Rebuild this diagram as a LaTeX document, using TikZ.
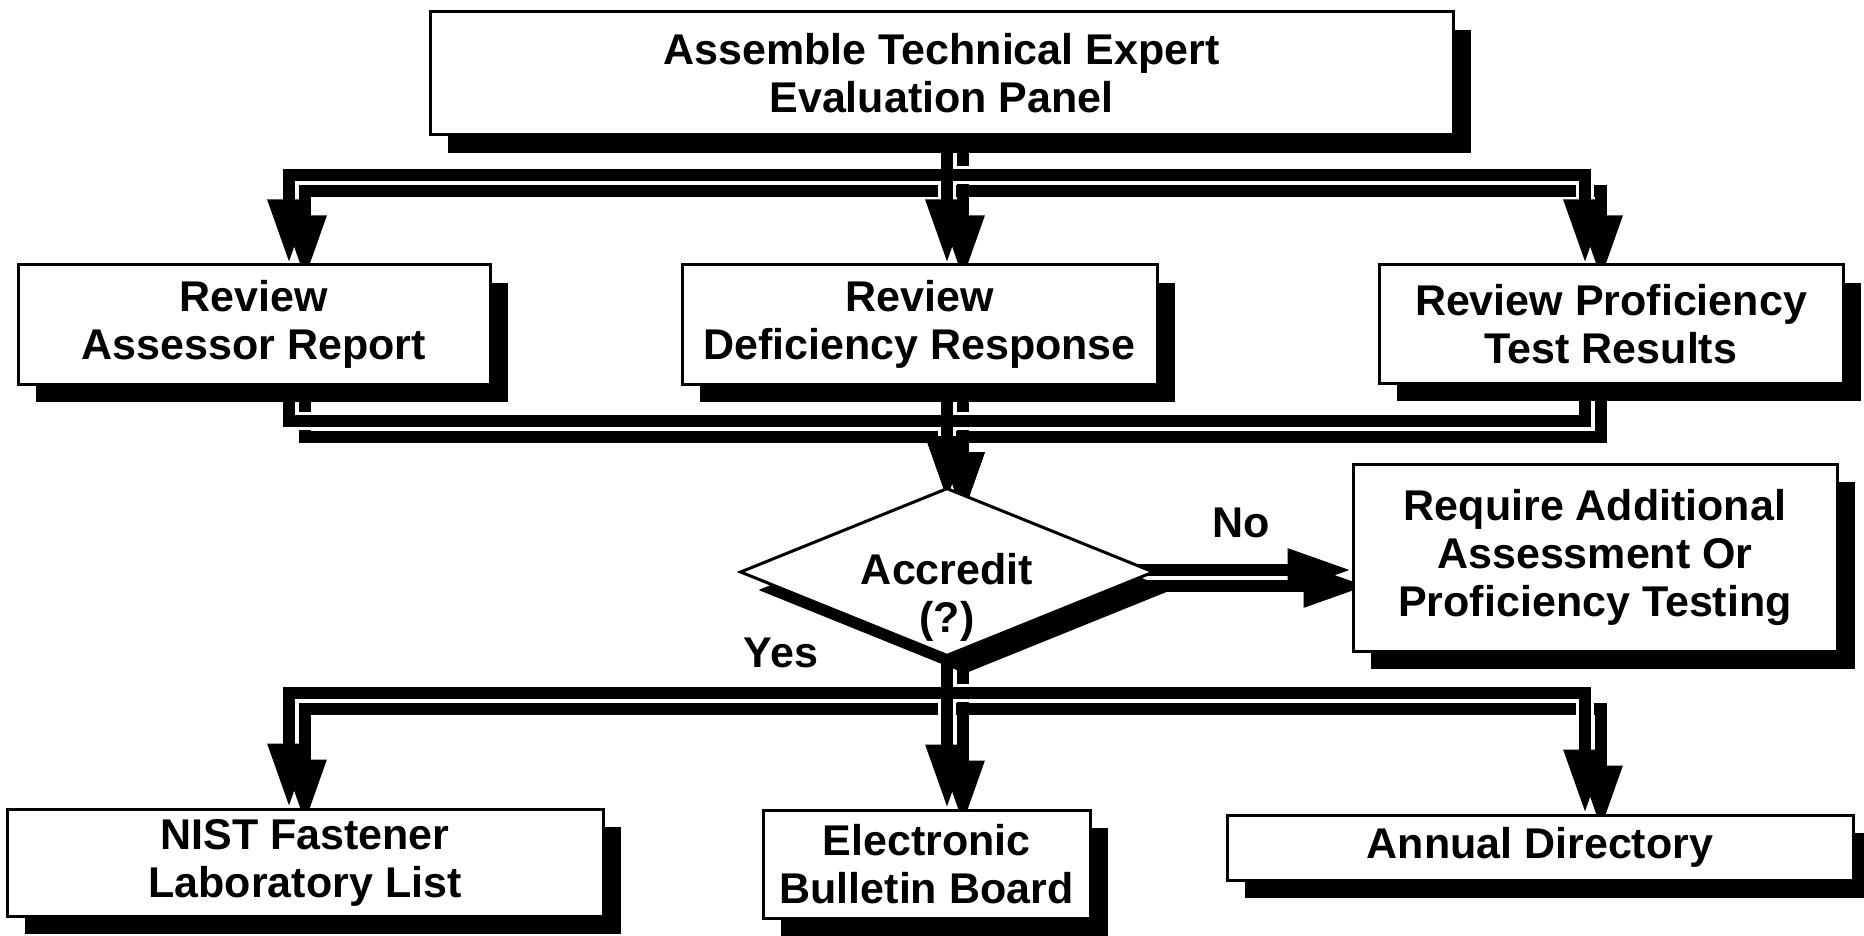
\documentclass[tikz,border=0pt]{standalone}
\usepackage{fontspec}
\setmainfont{Liberation Sans}
\usetikzlibrary{arrows.meta,shapes.geometric,shadows}
\pgfdeclarelayer{bg}
\pgfsetlayers{bg,main}
\newcommand\allwires[1]{%
  \draw[#1] (top.south -| tA) -- (tA) -- (cL) -- (cL |- assess.north);
  \draw[#1] (top.south -| tA) -- (tA |- def.north);
  \draw[#1] (top.south -| tA) -- (tA) -- (cR) -- (cR |- prof.north);
  \draw[#1] (assess.south -| cL) -- (cL |- mA) -- (mA) -- (dTip);
  \draw[#1] (prof.south -| cR) -- (cR |- mA) -- (mA) -- (dTip);
  \draw[#1] (def.south -| mA) -- (dTip);
  \draw[#1] (acc.center) -- (bA) -- (bA -| cL) -- (cL |- nist.north);
  \draw[#1] (acc.center) -- (acc.center |- elec.north);
  \draw[#1] (acc.center) -- (bA) -- (bA -| cR) -- (cR |- annual.north);
  \draw[#1] (noS) -- (noS -| req.west);
}
\begin{document}
\begin{tikzpicture}[x=1pt,y=-1pt,
  font=\fontsize{43}{48}\selectfont\bfseries,
  shadowed/.style={drop shadow={shadow xshift=18pt, shadow yshift=-18pt, fill=black, opacity=1}},
  box/.style={draw, line width=3pt, fill=white, inner sep=0pt, align=center, shadowed},
  dec/.style={diamond, draw, line width=3pt, fill=white, inner sep=0pt,
    minimum width=414pt, minimum height=168pt, shadowed},
  lbl/.style={inner sep=0pt, align=center},
  wire/.style={line width=12pt, line join=miter},
  arrowed/.style={-{Triangle[length=64pt,width=40pt]}},
  casing/.style={white, line width=18pt, shorten >=60pt}
]
\useasboundingbox (0,0) rectangle (1864,936);

\node[box, minimum width=1023pt, minimum height=123pt] (top) at (941.5,73.5) {Assemble Technical Expert\\Evaluation Panel};
\node[box, minimum width=472pt, minimum height=119pt] (assess) at (254,324.5) {Review\\Assessor Report};
\node[box, minimum width=475pt, minimum height=119pt] (def) at (919.5,324.5) {Review\\Deficiency Response};
\node[box, minimum width=464pt, minimum height=118pt] (prof) at (1611,324) {Review Proficiency\\Test Results};
\node[dec] (acc) at (947,572) {};
\node[lbl] (acctext) at (947,597) {Accredit\\(?)};
\node[box, minimum width=484pt, minimum height=187pt] (req) at (1595,557.5) {Require Additional\\Assessment Or\\Proficiency Testing};
\node[box, minimum width=596pt, minimum height=107pt] (nist) at (305,862.5) {NIST Fastener\\Laboratory List};
\node[box, minimum width=327pt, minimum height=108pt] (elec) at (926.5,864) {Electronic\\Bulletin Board};
\node[box, minimum width=626pt, minimum height=65pt] (annual) at (1540,847.5) {Annual Directory};
\node[lbl] (no) at (1241,523) {No};
\node[lbl] (yes) at (781,653) {Yes};

\coordinate (tA) at (947,175);
\coordinate (cL) at (289,175);
\coordinate (cR) at (1585,175);
\coordinate (mA) at (947,421);
\coordinate (dTip) at (947,500);
\coordinate (bA) at (947,693);
\coordinate (noS) at (1110,570);

\begin{pgfonlayer}{bg}
  \fill[white] (0,0) rectangle (1864,936);
  \begin{scope}[transform canvas={xshift=16pt,yshift=-16pt}]
    \allwires{wire,arrowed}
  \end{scope}
  \allwires{casing}
  \allwires{wire,arrowed}
\end{pgfonlayer}
\end{tikzpicture}
\end{document}
